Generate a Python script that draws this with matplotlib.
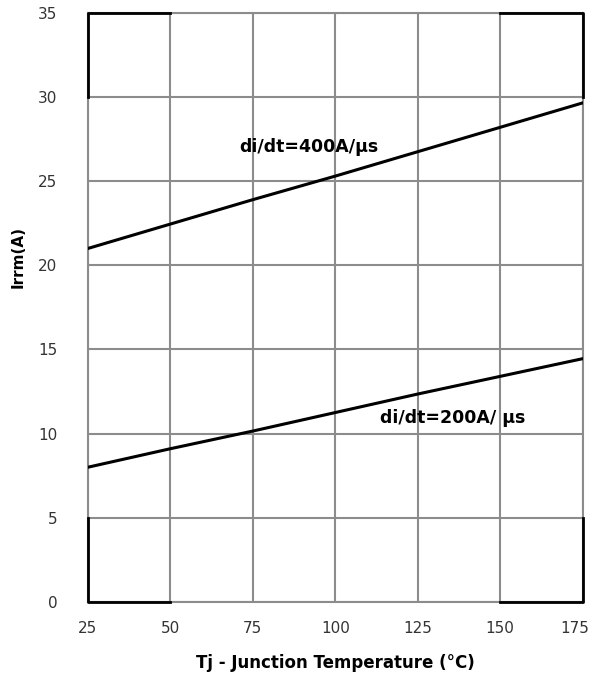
import matplotlib
matplotlib.use("Agg")
import matplotlib.pyplot as plt
import matplotlib.transforms as mtransforms
import numpy as np

# data
temps = [25, 50, 75, 100, 125, 150, 175]
irrm_400 = [21.0, 22.45, 23.9, 25.3, 26.75, 28.2, 29.65]
irrm_200 = [8.0, 9.1, 10.15, 11.25, 12.35, 13.4, 14.45]
x_ticks = [25, 50, 75, 100, 125, 150, 175]
y_ticks = [0, 5, 10, 15, 20, 25, 30, 35]
label_400 = "di/dt=400A/μs"
label_200 = "di/dt=200A/ μs"

plt.rcParams["font.family"] = ["DejaVu Sans"]

fig = plt.figure(figsize=(5.94, 6.77), dpi=100)
ax = fig.add_axes([0.148, 0.111, 0.833, 0.870])

ax.set_xlim(x_ticks[0], x_ticks[-1])
ax.set_ylim(y_ticks[0], y_ticks[-1])
ax.set_xticks(x_ticks)
ax.set_yticks(y_ticks)
ax.grid(True, color="#8c8c8c", linewidth=1.5)
ax.set_axisbelow(True)
for sp in ax.spines.values():
    sp.set_color("#8c8c8c")
    sp.set_linewidth(1.5)

ax.tick_params(length=0, labelsize=11, colors="#333333")
ax.tick_params(axis="y", pad=22)
ax.tick_params(axis="x", pad=14)

# pull the last x tick label a little inwards so it stays on the canvas
last = ax.get_xticklabels()[-1]
last.set_transform(last.get_transform() +
                   mtransforms.ScaledTranslation(-8 / 100, 0, fig.dpi_scale_trans))

# black corner pieces of the frame
x0, x1 = x_ticks[0], x_ticks[-1]
y0, y1 = y_ticks[0], y_ticks[-1]
xa, xb = x_ticks[1], x_ticks[-2]
ya, yb = y_ticks[1], y_ticks[-2]
kw = dict(color="black", linewidth=2.0, clip_on=False, zorder=5, solid_capstyle="projecting")
ax.plot([xa, x0, x0], [y1, y1, yb], **kw)
ax.plot([xb, x1, x1], [y1, y1, yb], **kw)
ax.plot([xa, x0, x0], [y0, y0, ya], **kw)
ax.plot([xb, x1, x1], [y0, y0, ya], **kw)

ax.plot(temps, irrm_400, color="black", linewidth=2.2, zorder=4)
ax.plot(temps, irrm_200, color="black", linewidth=2.2, zorder=4)

ax.text(71, 27.0, label_400, fontsize=12.5, fontweight="bold", va="center", ha="left")
ax.text(113.5, 10.9, label_200, fontsize=12.5, fontweight="bold", va="center", ha="left")

ax.set_xlabel("Tj - Junction Temperature (°C)", fontsize=12, fontweight="bold")
ax.xaxis.set_label_coords(0.5, -0.088)
ax.set_ylabel("Irrm(A)", fontsize=11, fontweight="bold")
ax.yaxis.set_label_coords(-0.125, 0.585)

fig.savefig("out.png", dpi=100)
